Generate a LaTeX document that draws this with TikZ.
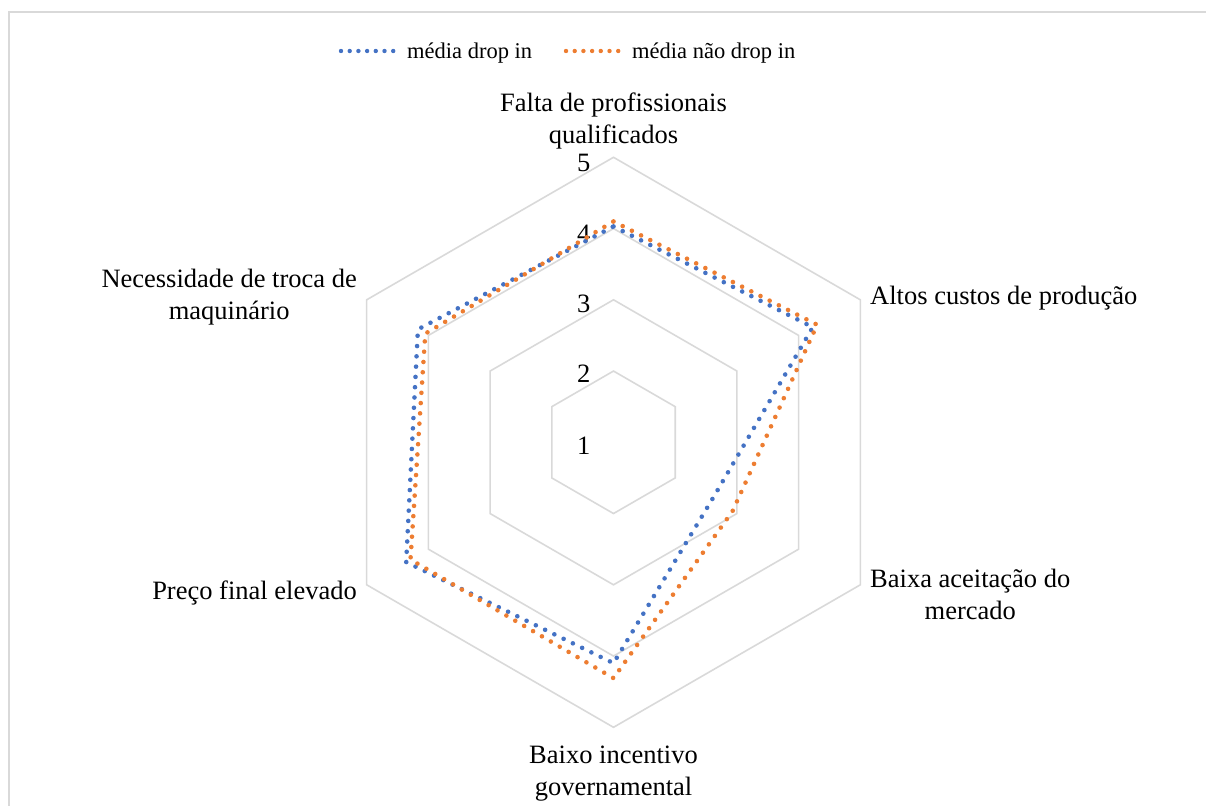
\documentclass[tikz,border=0pt]{standalone}
\usepackage{fontspec}
\setmainfont{Liberation Serif}
\definecolor{sblue}{HTML}{4472C4}
\definecolor{sorange}{HTML}{ED7D31}
\definecolor{gridc}{HTML}{D9D9D9}
\begin{document}
\begin{tikzpicture}[x=1pt,y=1pt,
  gridline/.style={draw=gridc,line width=1.6pt,line join=miter},
  series/.style={line width=4.6pt,line cap=round,line join=round,dash pattern=on 0pt off 10.3pt},
  legline/.style={line width=4.4pt,line cap=round,dash pattern=on 0pt off 8.7pt},
  axlabel/.style={font=\fontsize{26.5}{32}\selectfont,inner sep=0pt,align=center},
  lvl/.style={font=\fontsize{26.5}{30}\selectfont,inner sep=0pt,anchor=east},
  legtext/.style={font=\fontsize{22.5}{27}\selectfont,inner sep=0pt,anchor=west}]
\useasboundingbox (0,0) rectangle (1206,-805);
% outer frame
\draw[draw=gridc,line width=2pt] (9,-812) -- (9,-12) -- (1214,-12);
% legend
\coordinate (lb1) at (341,-51);
\coordinate (lb2) at (397,-51);
\coordinate (lo1) at (566,-51);
\coordinate (lo2) at (622,-51);
\draw[legline,sblue] (lb1) -- (lb2);
\draw[legline,sorange] (lo1) -- (lo2);
\node[legtext] (lbt) at (407,-53) {média drop in};
\node[legtext] (lot) at (632,-53) {média não drop in};
\begin{scope}[shift={(613.5,-442.3)}]
  \def\u{71.25}
  % grid hexagons
  \foreach \v in {2,3,4,5}{
    \draw[gridline] (90:{(\v-1)*\u}) -- (30:{(\v-1)*\u}) -- (-30:{(\v-1)*\u})
      -- (-90:{(\v-1)*\u}) -- (210:{(\v-1)*\u}) -- (150:{(\v-1)*\u}) -- cycle;
  }
  % level labels
  \node[lvl] (l1) at (-23,-3) {1};
  \node[lvl] (l2) at (-23,{\u-3}) {2};
  \node[lvl] (l3) at (-23,{2*\u-4}) {3};
  \node[lvl] (l4) at (-23,{3*\u-5}) {4};
  \node[lvl] (l5) at (-23,{4*\u-6}) {5};
  % series: média drop in
  \coordinate (b1) at (90:{3.03*\u});
  \coordinate (b2) at (30:{3.23*\u});
  \coordinate (b3) at (-30:{1.60*\u});
  \coordinate (b4) at (-90:{3.10*\u});
  \coordinate (b5) at (210:{3.36*\u});
  \coordinate (b6) at (150:{3.17*\u});
  % series: média não drop in
  \coordinate (o1) at (90:{3.10*\u});
  \coordinate (o2) at (30:{3.30*\u});
  \coordinate (o3) at (-30:{1.93*\u});
  \coordinate (o4) at (-90:{3.31*\u});
  \coordinate (o5) at (210:{3.29*\u});
  \coordinate (o6) at (150:{3.05*\u});
  \draw[series,sblue] (b1) -- (b2) -- (b3) -- (b4) -- (b5) -- (b6) -- cycle;
  \draw[series,sorange] (o1) -- (o2) -- (o3) -- (o4) -- (o5) -- (o6) -- cycle;
\end{scope}
% axis labels
\node[axlabel] (a1) at (613.5,-121) {Falta de profissionais\\qualificados};
\node[axlabel,anchor=west] (a2) at (870,-298) {Altos custos de produção};
\node[axlabel,anchor=west] (a3) at (870,-594) {Baixa aceitação do\\mercado};
\node[axlabel] (a4) at (613.5,-774) {Baixo incentivo\\governamental};
\node[axlabel,anchor=east] (a5) at (357,-593) {Preço final elevado};
\node[axlabel,anchor=east] (a6) at (357,-297) {Necessidade de troca de\\maquinário};
\end{tikzpicture}
\end{document}
